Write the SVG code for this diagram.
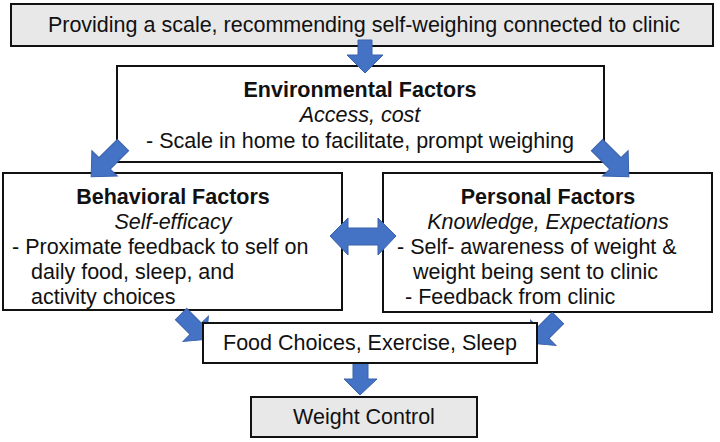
<svg xmlns="http://www.w3.org/2000/svg" width="720" height="442" viewBox="0 0 720 442">
<style>
.box{fill:#ffffff;stroke:#111;stroke-width:2}
.gray{fill:#e8e8e8;stroke:#111;stroke-width:2}
text{font-family:"Liberation Sans",Arial,sans-serif;font-size:21.5px;fill:#111}
.c{text-anchor:middle}
.b{font-weight:bold}
.i{font-style:italic}
.arr{fill:#4472c4;stroke:#3a62ab;stroke-width:1}
</style>
<defs>
<polygon id="ba" points="0,-8 26,-8 26,-18 45,0 26,18 26,8 0,8"/>
</defs>
<rect width="720" height="442" fill="#fff"/>
<g id="top"><rect class="gray" x="11" y="4" width="702" height="42"/>
<text class="c" x="364" y="32">Providing a scale, recommending self-weighing connected to clinic</text></g>
<g id="env"><rect class="box" x="117" y="66" width="487" height="96"/>
<text class="c b" x="360" y="97">Environmental Factors</text>
<text class="c i" x="360" y="122">Access, cost</text>
<text class="c" x="360" y="148">- Scale in home to facilitate, prompt weighing</text></g>
<g id="behavioral"><rect class="box" x="3" y="173" width="339" height="137"/>
<text class="c b" x="173" y="204">Behavioral Factors</text>
<text class="c i" x="173" y="229">Self-efficacy</text>
<text x="12" y="254">- Proximate feedback to self on</text>
<text x="31" y="279">daily food, sleep, and</text>
<text x="31" y="304">activity choices</text></g>
<g id="personal"><rect class="box" x="383" y="173" width="329" height="139"/>
<text class="c b" x="548" y="204">Personal Factors</text>
<text class="c i" x="548" y="229">Knowledge, Expectations</text>
<text x="397" y="254">- Self- awareness of weight &amp;</text>
<text x="413" y="279">weight being sent to clinic</text>
<text x="405" y="304">- Feedback from clinic</text></g>
<g id="connectors">
<polygon class="arr" points="358,40 372,40 372,55 383,55 365,73 347,55 358,55"/>
<use href="#ba" class="arr" transform="translate(123,145) rotate(135)"/>
<use href="#ba" class="arr" transform="translate(597,145) rotate(45)"/>
<polygon class="arr" points="330,236 348,218 348,228 378,228 378,218 396,236 378,255 378,245 348,245 348,255"/>
<use href="#ba" class="arr" transform="translate(181,314) rotate(45) scale(0.8,1)"/>
<use href="#ba" class="arr" transform="translate(558,318) rotate(135) scale(0.8,1)"/>
<polygon class="arr" points="353,357 368,357 368,379 377,379 360,395 344,379 353,379"/>
</g>
<g id="food"><rect class="box" x="203" y="323" width="334" height="40"/>
<text class="c" x="370" y="350">Food Choices, Exercise, Sleep</text></g>
<g id="weight"><rect class="gray" x="251" y="397" width="226" height="40"/>
<text class="c" x="364" y="424">Weight Control</text></g>
</svg>
